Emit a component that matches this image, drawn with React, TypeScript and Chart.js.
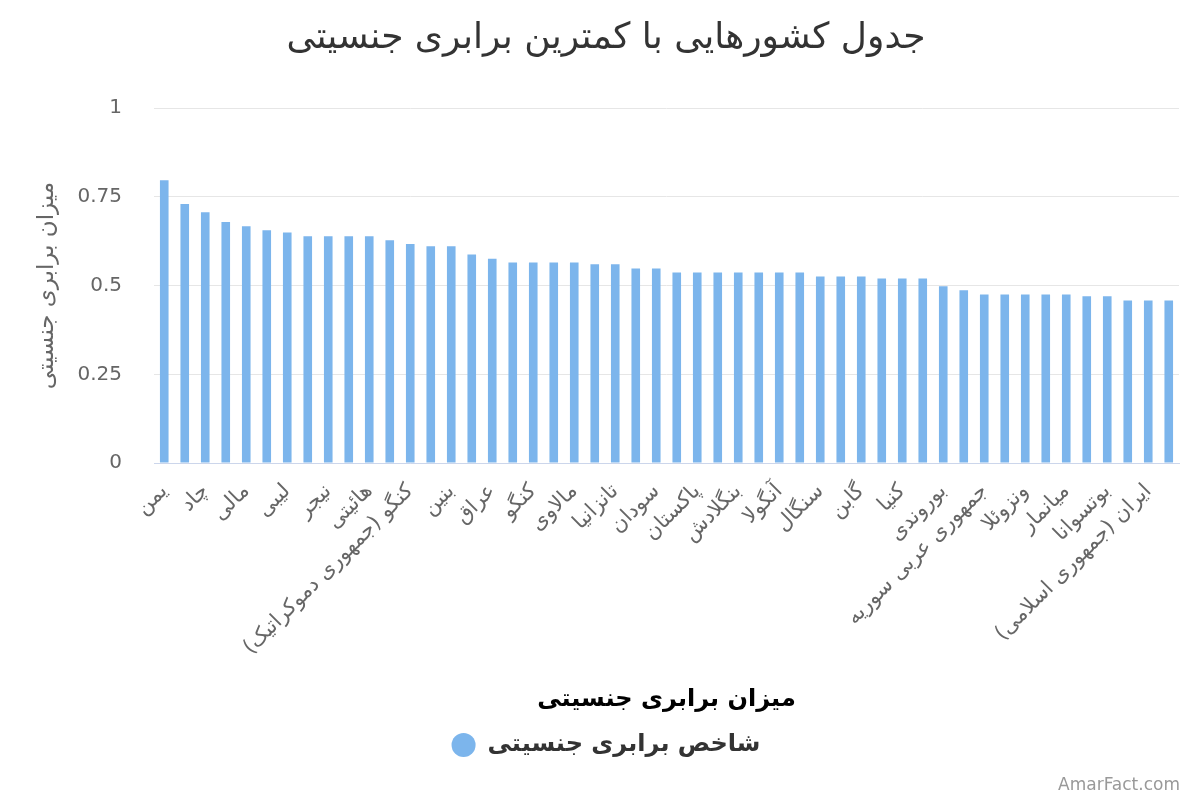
import React, { useEffect, useRef } from 'react';
import { Chart, registerables } from 'chart.js';

Chart.register(...registerables);

const TITLE = 'جدول کشورهایی با کمترین برابری جنسیتی';
const AXIS_TITLE = 'میزان برابری جنسیتی';
const SERIES_NAME = 'شاخص برابری جنسیتی';
const CREDITS = 'AmarFact.com';

// Only every other category name is printed in the picture; the others are unreadable, left blank.
const countries = [
  'یمن', '', 'چاد', '', 'مالی', '', 'لیبی', '', 'نیجر', '',
  'هائیتی', '', 'کنگو (جمهوری دموکراتیک)', '', 'بنین', '', 'عراق', '', 'کنگو', '',
  'مالاوی', '', 'تانزانیا', '', 'سودان', '', 'پاکستان', '', 'بنگلادش', '',
  'آنگولا', '', 'سنگال', '', 'گابن', '', 'کنیا', '', 'بوروندی', '',
  'جمهوری عربی سوریه', '', 'ونزوئلا', '', 'میانمار', '', 'بوتسوانا', '', 'ایران (جمهوری اسلامی)', '',
];

const values = [
  0.797, 0.730, 0.707, 0.679, 0.667, 0.656, 0.650, 0.639, 0.639, 0.639,
  0.639, 0.628, 0.617, 0.611, 0.611, 0.588, 0.576, 0.565, 0.565, 0.565,
  0.565, 0.560, 0.560, 0.548, 0.548, 0.537, 0.537, 0.537, 0.537, 0.537,
  0.537, 0.537, 0.526, 0.526, 0.526, 0.520, 0.520, 0.520, 0.498, 0.487,
  0.475, 0.475, 0.475, 0.475, 0.475, 0.470, 0.470, 0.458, 0.458, 0.458,
];

const yTicks = [0, 0.25, 0.5, 0.75, 1];

const FONT = "'DejaVu Sans', sans-serif";

const creditsPlugin = {
  id: 'credits',
  afterDraw(chart: any) {
    const ctx = chart.ctx;
    ctx.save();
    ctx.font = `17px ${FONT}`;
    ctx.fillStyle = '#999999';
    ctx.textAlign = 'right';
    ctx.textBaseline = 'alphabetic';
    ctx.fillText(CREDITS, chart.width - 20, chart.height - 10);
    ctx.restore();
  },
};

export default function App() {
  const ref = useRef<HTMLCanvasElement | null>(null);

  useEffect(() => {
    document.body.style.margin = '0';
    if (!ref.current) return;
    const chart = new Chart(ref.current, {
      type: 'bar',
      data: {
        labels: countries,
        datasets: [
          {
            label: SERIES_NAME,
            data: values,
            backgroundColor: '#7cb5ec',
            borderWidth: 0,
            barPercentage: 0.42,
            categoryPercentage: 1,
          },
        ],
      },
      options: {
        animation: false,
        responsive: false,
        maintainAspectRatio: false,
        layout: { padding: { left: 33, right: 21, top: 0, bottom: 33 } },
        plugins: {
          title: {
            display: true,
            text: TITLE,
            color: '#333333',
            font: { family: FONT, size: 36, weight: 'normal' },
            padding: { top: 17, bottom: 48 },
          },
          legend: {
            display: true,
            position: 'bottom',
            labels: {
              usePointStyle: true,
              pointStyle: 'circle',
              boxHeight: 17,
              boxWidth: 24,
              color: '#333333',
              font: { family: FONT, size: 24, weight: 'bold' },
              padding: 10,
            },
          },
          tooltip: { enabled: false },
        },
        scales: {
          x: {
            afterFit(scale: any) {
              scale.paddingLeft = 0;
              scale.paddingRight = 0;
              scale.height = 260;
            },
            grid: { display: false, drawTicks: false },
            border: { display: true, color: '#ccd6eb', width: 1 },
            ticks: {
              autoSkip: false,
              maxRotation: 45,
              minRotation: 45,
              color: '#666666',
              font: { family: FONT, size: 21 },
              padding: 16,
            },
            title: {
              display: true,
              text: AXIS_TITLE,
              color: '#000000',
              font: { family: FONT, size: 24, weight: 'bold' },
              padding: { top: 10, bottom: 9 },
            },
          },
          y: {
            min: 0,
            max: 1,
            afterBuildTicks(scale: any) {
              scale.ticks = yTicks.map((v) => ({ value: v }));
            },
            afterFit(scale: any) {
              scale.width = 121;
            },
            grid: { color: '#e6e6e6', drawTicks: false },
            border: { display: false },
            ticks: {
              color: '#666666',
              font: { family: FONT, size: 20 },
              padding: 32,
              callback: (v: any) => String(v),
            },
            title: {
              display: true,
              text: AXIS_TITLE,
              color: '#666666',
              font: { family: FONT, size: 23, weight: 'normal' },
              padding: { top: 0, bottom: 10 },
            },
          },
        },
      },
      plugins: [creditsPlugin],
    });
    return () => chart.destroy();
  }, []);

  return (
    <div style={{ position: 'absolute', left: 0, top: 0, width: 1200, height: 800, background: '#ffffff' }}>
      <canvas ref={ref} width={1200} height={800} style={{ width: 1200, height: 800 }} />
    </div>
  );
}
